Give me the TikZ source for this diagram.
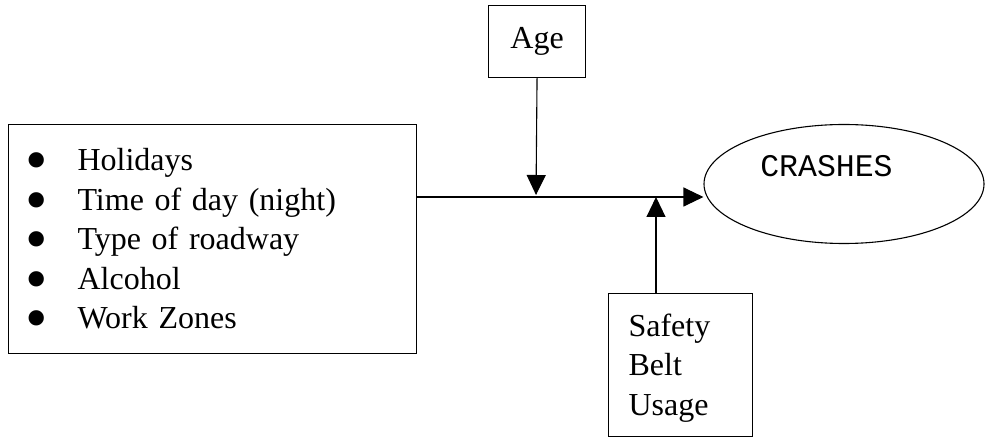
\documentclass[tikz,border=0pt]{standalone}
\usepackage{fontspec}
\setmainfont{Liberation Serif}
\newfontfamily\crmono{Liberation Mono}
\usetikzlibrary{shapes.geometric,arrows.meta}
\tikzset{
  box/.style={draw, line width=1.1pt, rectangle, inner sep=0pt, font=\fontsize{32}{39.5}\selectfont},
  link/.style={line width=1.1pt, -{Triangle[length=20pt,width=19pt]}},
  plain/.style={line width=1.1pt}
}
\newcommand{\bul}{\makebox[48.5pt][l]{\hspace*{-4pt}\raisebox{-11pt}[0pt][0pt]{\scalebox{2}{\textbullet}}}}
\begin{document}
\begin{tikzpicture}[x=1pt,y=-1pt]
\useasboundingbox (0,0) rectangle (985,438);
% factors box
\node[box, anchor=north west, minimum width=408pt, minimum height=229pt,
      text width=367pt, inner xsep=20.5pt, align=left] (factors) at (8,124)
  {\bul Holidays\\ \bul Time of day (night)\\ \bul Type of roadway\\ \bul Alcohol\\ \bul Work Zones};
% age box
\node[box, anchor=north west, minimum width=97pt, minimum height=72pt] (age) at (488,5) {Age};
% safety box
\node[box, anchor=north west, minimum width=144pt, minimum height=143pt,
      text width=104pt, inner xsep=20pt, align=left] (safety) at (608,293)
  {\fontsize{32}{39}\selectfont\rule{0pt}{29pt}Safety\\ Belt\\ Usage};
% crashes ellipse
\node[draw, line width=1.1pt, ellipse, inner sep=0pt, minimum width=280pt, minimum height=119pt,
      text height=18pt, text depth=32pt, font=\crmono\fontsize{31.5}{36}\selectfont] (crashes) at (844,184)
  {CRASHES\kern35pt\relax};
% junctions
\coordinate (joinA) at (536,197);
\coordinate (joinB) at (656,197);
% connectors
\draw[link] (factors.east |- joinA) -- (crashes.west |- joinA);
\draw[link, shorten >=2pt] (age.south) -- (joinA);
\draw[link] (joinB |- safety.north) -- (joinB);
\end{tikzpicture}
\end{document}
